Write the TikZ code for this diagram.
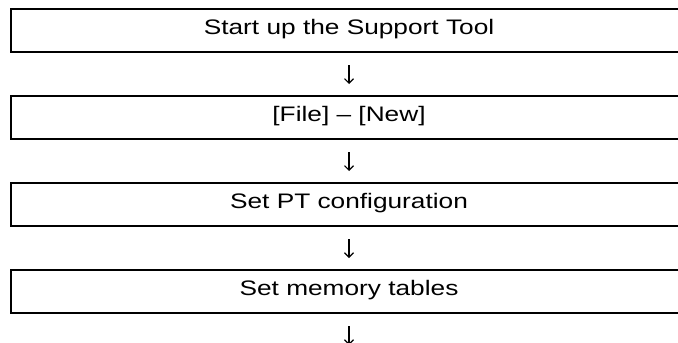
\documentclass[tikz,border=0pt]{standalone}
\usepackage{fontspec}
\setmainfont{Liberation Sans}[FakeStretch=1.25]
\usetikzlibrary{arrows.meta,positioning}
\tikzset{
  stepbox/.style={draw,line width=1.7pt,outer sep=0pt,inner sep=0pt,
    minimum width=676pt,minimum height=43pt,text height=15pt,text depth=8pt,
    font=\fontsize{21}{25}\selectfont},
  flow/.style={-{Straight Barb[length=4.5pt,width=9pt]},line width=1.1pt,
    shorten <=13pt,shorten >=12pt}
}

\begin{document}
\begin{tikzpicture}[x=1pt,y=-1pt]
  \useasboundingbox (0,0) rectangle (678,343);
  \clip (0,0) rectangle (678,343);
  \node[stepbox] (start) at (349,30.5) {Start up the Support Tool};
  \node[stepbox,below=44pt of start] (new) {[File] – [New]};
  \node[stepbox,below=44pt of new] (ptcfg) {Set PT configuration};
  \node[stepbox,below=44pt of ptcfg] (memtab) {Set memory tables};
  \coordinate[below=44pt of memtab] (next);
  \draw[flow] (start) -- (new);
  \draw[flow] (new) -- (ptcfg);
  \draw[flow] (ptcfg) -- (memtab);
  \draw[flow] (memtab) -- (next);
\end{tikzpicture}
\end{document}
